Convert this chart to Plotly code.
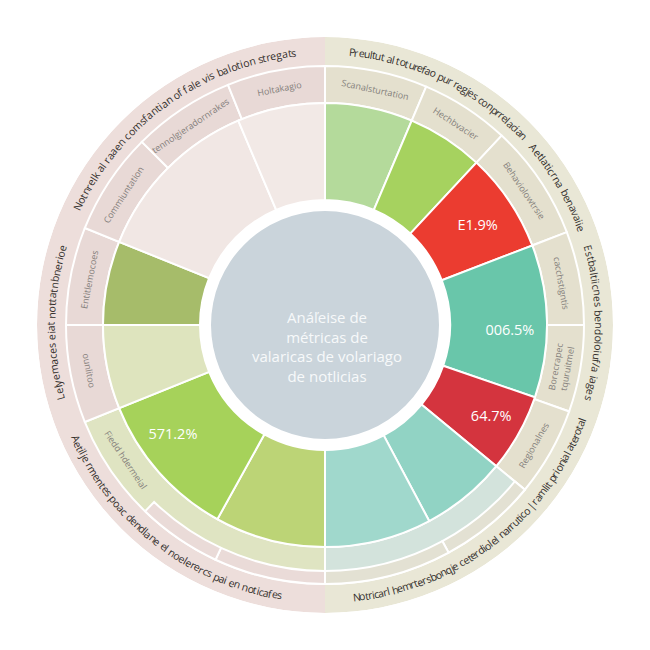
import math
import plotly.graph_objects as go

# ---------------- data ----------------
# inner ring: angular widths (degrees, clockwise from 12 o'clock)
seg_widths = [23, 20, 26, 40, 20.5, 22.5, 28, 29, 39, 22, 22, 45, 23]
seg_colors = ["#b4da9b", "#a6d25f", "#eb3c30", "#69c6aa", "#d4343e", "#91d3c4", "#a0d8cc",
              "#bcd476", "#a6d25a", "#dee4be", "#a6bc6a", "#f1e7e4", "#f2e9e6"]

pct_labels = ["E1.9%", "006.5%", "64.7%", "571.2%"]
pct_theta = [57, 92, 119, 234]
pct_r = [182, 185, 190, 188]

# label ring cells
label_bounds = [0, 23, 43, 69, 90, 109.5, 129.5, 180, 248, 270, 292, 315, 338, 360]
label_colors = ["#e4e0ce"] * 6 + ["#d3e3dc", "#dfe4c2"] + ["#e8d9d6"] * 5
label_texts = ["Scanalsturtation", "Hechbvacier", "Behaviolowtrsie", "cacchstigntis",
               "Borecrapec<br>tquruitmel", "Regionalnes", "", "Fiedd hdermeial",
               "ounlitoo", "Entitlemocoes", "Commiuntation", "tennolgieradornrakes", "Holtakagio"]
label_text_theta = [12, 33, 56, 80, 100, 120, 155, 236, 259, 281, 303, 326, 349]

# outer sub-band cells at the bottom
sub_bounds = [(129.5, 151.5), (151.5, 180), (180, 205), (205, 224)]
sub_colors = ["#e3e1d3", "#e3e1d3", "#eadbd8", "#eadbd8"]

# outer rim halves
rim_bounds = [(0, 180), (180, 360)]
rim_colors = ["#e9e7d6", "#eddedb"]

rim_texts = [
    ("Notnrelk al raaen comsfantian of fale vis balotion stregats", 295, 354),
    ("Preultut al toturefao pur regjes conprrelacian", 5, 47),
    ("Aetlaticrna benavaiie", 49, 70),
    ("Estbaltiicnes bendoloiuf/a iages", 73, 106),
    ("Notricarl hemrtersbonqje ceterdiolel narrutico | ramlit prionial aterotal", 174, 110),
    ("Aetilje rmentes poac dendlane el noelerercs pai en noticafes", 246, 189),
    ("Lelyemaces eiat nottatnbnerioe", 254, 287),
]

center_lines = ["Anáľeise de", "métricas de", "valaricas de volariago", "de notlicias"]

# ---------------- geometry ----------------
W = H = 650
OFF = 8  # page body margin in the browser
CX, CY = 325 - OFF, 325 - OFF
R_OUT = 288
R_HOLE = 114
R_IN = 125
R_SEG = 222
R_SUB = 246
R_LAB = 259

FONT = "Open Sans"

fig = go.Figure()


def add_bars(starts_ends, colors, base, height, line_w=2, line_c="white"):
    theta = [(a + b) / 2 for a, b in starts_ends]
    width = [b - a for a, b in starts_ends]
    fig.add_trace(go.Barpolar(
        theta=theta, width=width, base=[base] * len(theta), r=[height] * len(theta),
        marker=dict(color=colors, line=dict(color=line_c, width=line_w)),
        hoverinfo="skip", showlegend=False))


# rim
add_bars(rim_bounds, rim_colors, R_LAB, R_OUT - R_LAB, line_w=0)
# label ring
lab_se = [(label_bounds[i], label_bounds[i + 1]) for i in range(len(label_bounds) - 1)]
add_bars(lab_se, label_colors, R_SEG, R_LAB - R_SEG)
# sub band
add_bars(sub_bounds, sub_colors, R_SUB, R_LAB - R_SUB)
# white ring + centre disc
fig.add_trace(go.Barpolar(theta=[180], width=[360], base=[0], r=[R_IN],
                          marker=dict(color="white", line=dict(width=0)),
                          hoverinfo="skip", showlegend=False))
fig.add_trace(go.Barpolar(theta=[180], width=[360], base=[0], r=[R_HOLE],
                          marker=dict(color="#cad4db", line=dict(width=0)),
                          hoverinfo="skip", showlegend=False))
# segments
se = []
acc = 0
for w in seg_widths:
    se.append((acc, acc + w))
    acc += w
add_bars(se, seg_colors, R_IN, R_SEG - R_IN)

# percentage labels
fig.add_trace(go.Scatterpolar(theta=pct_theta, r=pct_r, text=pct_labels, mode="text",
                              textfont=dict(color="white", size=14.5, family=FONT),
                              hoverinfo="skip", showlegend=False))

# ---------------- text helpers ----------------
LW = dict(a=.556, b=.613, c=.480, d=.613, e=.561, f=.336, g=.546, h=.614, i=.258, j=.258,
          k=.529, l=.258, m=.932, n=.614, o=.602, p=.613, q=.613, r=.409, s=.477, t=.353,
          u=.614, v=.501, w=.778, x=.524, y=.501, z=.468)


def cw(ch):
    if ch == " ":
        return 0.26
    if ch in LW:
        return LW[ch]
    if ch.isupper():
        return {"I": .28, "M": .9, "W": .92}.get(ch, .65)
    return .35


def to_paper(th, r):
    t = math.radians(th)
    x = CX + r * math.sin(t)
    y = CY - r * math.cos(t)
    return x / W, 1 - y / H


def norm(a):
    return ((a + 180) % 360) - 180


annotations = []


def arc_text(text, th0, th1, r, fs, color):
    d = 1 if th1 > th0 else -1
    span = math.radians(abs(th1 - th0)) * r
    ws = [cw(c) * fs for c in text]
    k = span / sum(ws)
    pos = 0.0
    for c, w in zip(text, ws):
        adv = w * k
        mid = pos + adv / 2
        pos += adv
        if c == " ":
            continue
        th = th0 + d * math.degrees(mid / r)
        ang = th if d == 1 else th - 180
        x, y = to_paper(th, r)
        annotations.append(dict(x=x, y=y, xref="paper", yref="paper", text=c,
                                textangle=norm(ang), showarrow=False,
                                xanchor="center", yanchor="middle",
                                font=dict(family=FONT, size=fs, color=color)))


for txt, a, b in rim_texts:
    arc_text(txt, a, b, 274, 10.5, "#34302d")

for txt, th in zip(label_texts, label_text_theta):
    if not txt:
        continue
    ang = th - 180 if 90 < th < 270 else th
    x, y = to_paper(th, (R_SEG + R_LAB) / 2)
    annotations.append(dict(x=x, y=y, xref="paper", yref="paper", text=txt,
                            textangle=norm(ang), showarrow=False,
                            xanchor="center", yanchor="middle",
                            font=dict(family=FONT, size=9, color="#85807c")))

annotations.append(dict(x=(CX + 2) / W, y=1 - (CY + 21) / H, xref="paper", yref="paper",
                        text="<br>".join(center_lines), showarrow=False,
                        xanchor="center", yanchor="middle", align="center",
                        font=dict(family=FONT, size=15, color="#f7f9fa")))

fig.update_layout(
    width=W, height=H, margin=dict(l=0, r=0, t=0, b=0),
    paper_bgcolor="white", plot_bgcolor="white",
    polar=dict(domain=dict(x=[(CX - R_OUT) / W, (CX + R_OUT) / W],
                           y=[1 - (CY + R_OUT) / H, 1 - (CY - R_OUT) / H]),
               bgcolor="rgba(0,0,0,0)", bargap=0, hole=0,
               radialaxis=dict(range=[0, R_OUT], visible=False, showgrid=False),
               angularaxis=dict(direction="clockwise", rotation=90, visible=False,
                                showgrid=False)),
    annotations=annotations,
    showlegend=False,
)

fig.write_html("out.html")
